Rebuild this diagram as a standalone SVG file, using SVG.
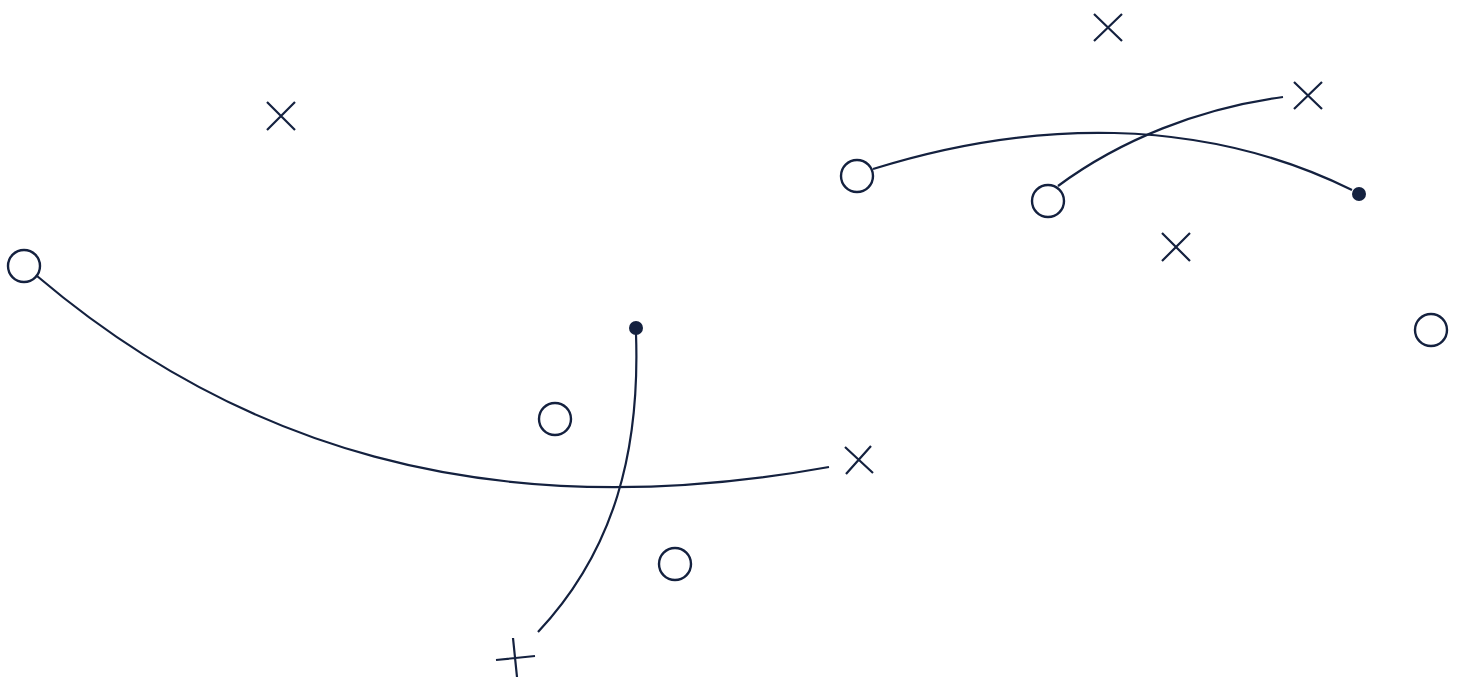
<svg xmlns="http://www.w3.org/2000/svg" width="1463" height="677" viewBox="0 0 1463 677">
<style>
.s{fill:none;stroke:#14213f;stroke-width:2.2;stroke-linecap:butt}
.o{fill:#fff;stroke:#14213f;stroke-width:2.4}
.d{fill:#14213f}
</style>
<rect width="1463" height="677" fill="#fff"/>
<g id="connectors">
<path class="s" d="M37,276 C230,440 480,530 829,467"/>
<path class="s" d="M636,334 C640,450 615,550 538,632"/>
<path class="s" d="M873,169 C1030,120 1200,115 1352,190"/>
<path class="s" d="M1058,186 C1120,140 1200,108 1283,97"/>
</g>
<g id="circle1"><circle class="o" cx="24" cy="266" r="16"/></g>
<g id="circle2"><circle class="o" cx="555" cy="419" r="16"/></g>
<g id="circle3"><circle class="o" cx="675" cy="564" r="16"/></g>
<g id="circle4"><circle class="o" cx="857" cy="176" r="16"/></g>
<g id="circle5"><circle class="o" cx="1048" cy="201" r="16"/></g>
<g id="circle6"><circle class="o" cx="1431" cy="330" r="16"/></g>
<g id="dot1"><circle class="d" cx="636" cy="328" r="7"/></g>
<g id="dot2"><circle class="d" cx="1359" cy="194" r="7"/></g>
<g id="cross1"><path class="s" d="M267,102 L295,130 M295,102 L267,130"/></g>
<g id="cross2"><path class="s" d="M845,447 L873,473 M871,446 L846,474"/></g>
<g id="cross3"><path class="s" d="M1094,14 L1122,41 M1122,14 L1094,41"/></g>
<g id="cross4"><path class="s" d="M1294,82 L1322,109 M1322,82 L1294,109"/></g>
<g id="cross5"><path class="s" d="M1162,233 L1190,261 M1190,233 L1162,261"/></g>
<g id="plus1"><path class="s" d="M496,660 L535,656 M513,638 L517,677"/></g>
</svg>
